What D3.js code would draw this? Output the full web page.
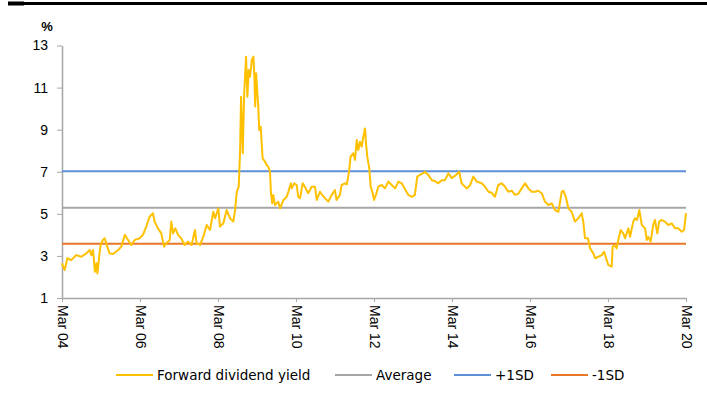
<!DOCTYPE html>
<html>
<head>
<meta charset="utf-8">
<script src="https://cdn.jsdelivr.net/npm/d3@7"></script>
<style>
  html, body { margin: 0; padding: 0; background: #fff; }
  svg { display: block; }
</style>
</head>
<body>
<svg id="chart" width="707" height="398"></svg>
<script>
// ---- Data ----
const dates = [
"2004-03-01","2004-03-26","2004-04-20","2004-05-27","2004-07-13","2004-08-29","2004-10-15","2004-11-16","2004-12-01","2004-12-17",
"2005-01-03","2005-01-18","2005-01-27","2005-02-19","2005-02-27","2005-03-19","2005-04-05","2005-04-29","2005-05-21","2005-06-21",
"2005-08-08","2005-09-08","2005-10-10","2005-11-10","2005-12-10","2006-01-12","2006-02-27","2006-03-29","2006-04-29","2006-05-30",
"2006-07-01","2006-07-16","2006-08-17","2006-09-17","2006-10-12","2006-11-04","2006-12-05","2006-12-20","2007-01-05","2007-01-27",
"2007-02-21","2007-03-22","2007-04-23","2007-05-24","2007-06-28","2007-07-29","2007-08-14","2007-09-15","2007-10-15","2007-11-16",
"2007-12-17","2008-01-17","2008-02-03","2008-03-04","2008-03-20","2008-04-20","2008-05-21","2008-06-22","2008-07-22","2008-08-08",
"2008-08-24","2008-09-11","2008-09-24","2008-10-03","2008-10-19","2008-11-01","2008-11-19","2008-12-01","2008-12-14","2008-12-26",
"2009-01-12","2009-01-27","2009-02-06","2009-02-12","2009-02-21","2009-03-13","2009-03-22","2009-04-05","2009-04-14","2009-04-23",
"2009-05-15","2009-05-30","2009-06-15","2009-07-01","2009-07-10","2009-07-22","2009-08-01","2009-08-17","2009-09-17","2009-10-03",
"2009-11-04","2009-12-05","2009-12-20","2010-01-12","2010-01-21","2010-02-12","2010-03-08","2010-03-22","2010-04-08","2010-05-03",
"2010-05-24","2010-06-24","2010-07-26","2010-08-26","2010-09-12","2010-10-12","2010-11-01","2010-12-14","2010-12-29","2011-01-30",
"2011-03-01","2011-03-16","2011-04-17","2011-05-03","2011-06-03","2011-06-21","2011-07-13","2011-07-26","2011-08-20","2011-09-05",
"2011-09-21","2011-10-06","2011-10-21","2011-11-07","2011-11-22","2011-12-08","2011-12-17","2011-12-29","2012-01-17","2012-01-30",
"2012-02-18","2012-03-01","2012-03-19","2012-04-10","2012-05-12","2012-06-12","2012-07-13","2012-08-14","2012-09-15","2012-10-15",
"2012-11-16","2012-12-17","2013-01-17","2013-02-18","2013-03-19","2013-04-10","2013-05-05","2013-06-06","2013-06-21","2013-07-22",
"2013-08-23","2013-09-24","2013-10-24","2013-11-26","2013-12-26","2014-01-27","2014-02-27","2014-03-29","2014-05-08","2014-05-30",
"2014-07-16","2014-08-17","2014-09-17","2014-10-19","2014-12-05","2015-01-05","2015-02-06","2015-03-08","2015-04-08","2015-05-08",
"2015-06-09","2015-07-10","2015-08-10","2015-09-12","2015-10-12","2015-11-13","2015-12-14","2016-01-15","2016-02-15","2016-03-16",
"2016-04-17","2016-05-17","2016-06-19","2016-07-19","2016-08-20","2016-09-21","2016-10-21","2016-11-22","2016-12-23","2017-01-08",
"2017-01-30","2017-02-24","2017-03-26","2017-04-26","2017-05-27","2017-06-28","2017-07-13","2017-07-29","2017-08-26","2017-09-15",
"2017-10-15","2017-11-01","2017-12-01","2018-01-03","2018-01-24","2018-02-12","2018-03-04","2018-04-05","2018-04-14","2018-05-05",
"2018-05-21","2018-06-06","2018-06-28","2018-07-22","2018-08-08","2018-09-08","2018-09-24","2018-10-24","2018-11-10","2018-11-28",
"2018-12-20","2019-01-12","2019-02-12","2019-02-27","2019-03-13","2019-04-05","2019-04-29","2019-05-15","2019-06-06","2019-06-24",
"2019-07-16","2019-08-17","2019-09-17","2019-10-19","2019-11-19","2019-12-20","2020-01-21","2020-02-12","2020-03-01"
];
const yieldValues = [
2.65,2.33,2.89,2.80,3.04,2.96,3.12,3.28,3.04,3.28,
2.25,2.65,2.17,3.28,3.52,3.76,3.84,3.44,3.12,3.09,
3.28,3.44,4.00,3.76,3.52,3.76,3.84,4.00,4.39,4.86,
5.03,4.63,4.31,4.07,3.44,3.60,3.76,4.63,4.07,4.31,
4.00,3.84,3.52,3.68,3.52,4.23,3.60,3.52,3.90,4.47,
4.23,5.10,4.79,5.26,4.39,4.55,5.18,4.79,4.63,5.18,
6.05,6.29,8.03,10.57,7.88,10.73,12.47,10.57,11.84,11.52,
12.31,12.47,11.36,10.10,11.68,10.10,8.98,9.14,8.35,7.64,
7.48,7.32,7.24,7.00,5.98,5.50,5.90,5.42,5.58,5.26,
5.66,5.81,6.05,6.45,6.21,6.45,6.37,5.81,5.74,6.45,
6.29,5.98,6.29,6.29,5.66,6.05,5.90,5.66,5.58,5.90,
6.13,5.66,5.90,6.37,6.45,6.40,7.08,7.72,7.88,7.56,
8.51,8.03,8.43,8.19,8.67,9.06,8.35,7.72,7.16,6.29,
5.98,5.66,5.90,6.29,6.37,6.21,6.53,6.37,6.21,6.53,
6.45,6.17,5.90,5.81,5.90,6.77,6.85,6.93,7.00,6.85,
6.61,6.55,6.45,6.60,6.60,6.93,6.70,6.80,7.00,6.45,
6.21,6.35,6.77,6.53,6.45,6.29,6.05,6.00,5.81,6.37,
6.45,6.30,6.05,6.10,5.90,5.95,6.21,6.45,6.21,6.05,
6.05,6.10,5.98,5.58,5.42,5.50,5.18,5.10,6.05,6.10,
5.81,5.26,5.10,4.63,4.79,5.03,4.63,3.84,3.84,3.36,
3.12,2.89,2.96,3.04,3.20,2.89,2.57,2.49,3.44,3.50,
3.36,3.76,4.23,4.07,3.84,4.31,3.91,4.63,4.79,4.70,
5.18,4.47,4.31,3.76,3.90,3.68,4.47,4.71,4.07,4.63,
4.71,4.63,4.47,4.55,4.31,4.31,4.15,4.23,5.03
];
const averageValue = 5.29;
const plusSDValue = 7.02;
const minusSDValue = 3.58;
const yTicks = [1, 3, 5, 7, 9, 11, 13];
const xTickDates = ["2004-03-01","2006-03-01","2008-03-01","2010-03-01","2012-03-01","2014-03-01","2016-03-01","2018-03-01","2020-03-01"];
const legendLabels = ["Forward dividend yield", "Average", "+1SD", "-1SD"];
const yUnit = "%";

// ---- Drawing ----
const parse = d3.timeParse("%Y-%m-%d");
const series = dates.map((d, i) => ({ date: parse(d), value: yieldValues[i] }));
const colors = { yield: "#ffc000", avg: "#a6a6a6", plus: "#5b8fd6", minus: "#e8772a" };

const svg = d3.select("#chart");

// top rule
svg.append("rect").attr("x", 8).attr("y", 2).attr("width", 699).attr("height", 3).attr("fill", "#000");
svg.append("rect").attr("x", 8).attr("y", 1.5).attr("width", 16).attr("height", 4).attr("fill", "#000");

const x = d3.scaleTime()
  .domain([parse(xTickDates[0]), parse(xTickDates[xTickDates.length - 1])])
  .range([62, 686]);
const y = d3.scaleLinear().domain([1, 13]).range([298, 45.5]);

// y axis
const yAxis = svg.append("g")
  .attr("transform", "translate(62,0)")
  .call(d3.axisLeft(y).tickValues(yTicks).tickSize(5).tickSizeOuter(0).tickPadding(9).tickFormat(d3.format("d")));
yAxis.select(".domain").attr("stroke", "#a6a6a6").attr("stroke-width", 1.5);
yAxis.selectAll(".tick line").attr("stroke", "#a6a6a6");
yAxis.selectAll(".tick text").attr("font-family", "'Liberation Sans', Arial, sans-serif").attr("font-size", 14).attr("fill", "#000");

// x axis
const xAxis = svg.append("g")
  .attr("transform", "translate(0,298)")
  .call(d3.axisBottom(x).tickValues(xTickDates.map(parse)).tickSize(4).tickSizeOuter(0).tickFormat(d3.timeFormat("Mar %y")));
xAxis.select(".domain").attr("stroke", "#a6a6a6").attr("stroke-width", 1.5);
xAxis.selectAll(".tick line").attr("stroke", "#a6a6a6");
xAxis.selectAll(".tick text")
  .attr("font-family", "'Liberation Sans', Arial, sans-serif").attr("font-size", 14).attr("fill", "#000")
  .attr("text-anchor", "start")
  .attr("transform", "translate(0,-1) rotate(90)")
  .attr("x", 8).attr("y", 0).attr("dy", "0.35em");

// unit label
svg.append("text").attr("x", 47).attr("y", 31).attr("text-anchor", "middle")
  .attr("font-family", "'Liberation Sans', Arial, sans-serif").attr("font-weight", "bold").attr("font-size", 13)
  .text(yUnit);

// reference lines
const refs = [
  { v: averageValue, c: colors.avg },
  { v: plusSDValue, c: colors.plus },
  { v: minusSDValue, c: colors.minus }
];
svg.selectAll("line.ref").data(refs).enter().append("line")
  .attr("class", "ref")
  .attr("x1", x.range()[0]).attr("x2", x.range()[1])
  .attr("y1", d => y(d.v)).attr("y2", d => y(d.v))
  .attr("stroke", d => d.c).attr("stroke-width", 2);

// yield line
const line = d3.line().x(d => x(d.date)).y(d => y(d.value));
svg.append("path").datum(series)
  .attr("d", line).attr("fill", "none")
  .attr("stroke", colors.yield).attr("stroke-width", 2).attr("stroke-linejoin", "round");

// legend
const legendItems = [
  { label: legendLabels[0], c: colors.yield, x: 116 },
  { label: legendLabels[1], c: colors.avg, x: 335 },
  { label: legendLabels[2], c: colors.plus, x: 454 },
  { label: legendLabels[3], c: colors.minus, x: 551 }
];
const lg = svg.append("g").attr("transform", "translate(0,375)");
legendItems.forEach(it => {
  lg.append("line").attr("x1", it.x).attr("x2", it.x + 37).attr("y1", 0).attr("y2", 0)
    .attr("stroke", it.c).attr("stroke-width", 2);
  lg.append("text").attr("x", it.x + 41).attr("y", 0).attr("dy", "0.35em")
    .attr("font-family", "'DejaVu Sans', Verdana, sans-serif").attr("font-size", 13.5).attr("fill", "#000")
    .text(it.label);
});
</script>
</body>
</html>
